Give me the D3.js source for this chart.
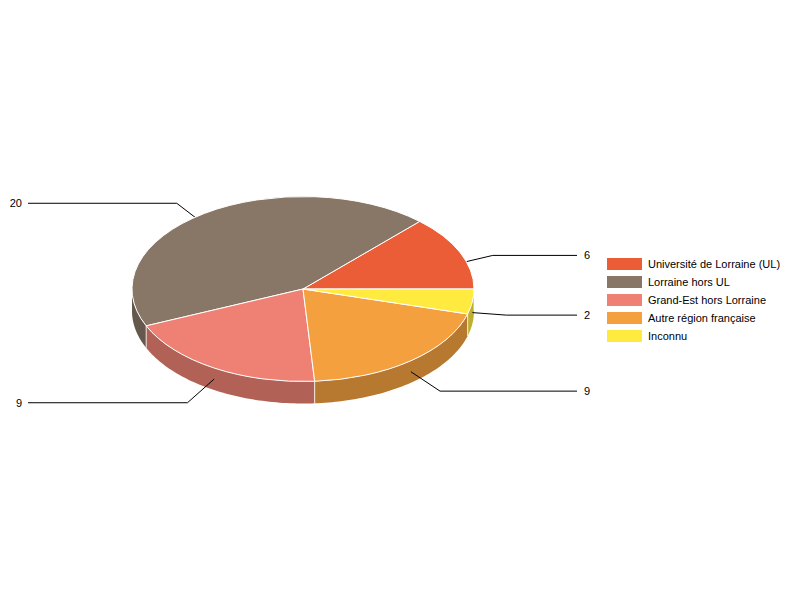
<!DOCTYPE html>
<html>
<head>
<meta charset="utf-8">
<script src="https://cdnjs.cloudflare.com/ajax/libs/d3/7.8.5/d3.min.js"></script>
<style>
    html, body { margin: 0; padding: 0; background: #fff; }
    svg { display: block; }
    text { font-family: "Liberation Sans", Arial, sans-serif; font-size: 11px; fill: #000; }
</style>
</head>
<body>
<div id="chart"></div>
<script>
const categories = ["Université de Lorraine (UL)", "Lorraine hors UL", "Grand-Est hors Lorraine", "Autre région française", "Inconnu"];
const values = [6, 20, 9, 9, 2];
const topColors = ["#ea5d37", "#887667", "#ee8174", "#f5a03f", "#ffea3f"];
const wallColors = ["#af4629", "#65584d", "#b26156", "#b7782f", "#bfaf2f"];
// how far the elbow of each leader line sits from the centre, relative to the slice's mid point
const leaderReach = [1.21, 1.28, 1.3, 1.27, 1.2];

const w = 800;
const h = 600;
const cx = 303;
const cy = 289;
const rx = 171;
const ry = 92.5;
const depth = 22;

const svg = d3.select("#chart").append("svg")
    .attr("width", w)
    .attr("height", h)
    .style("opacity", 0.999);

const color = d3.scaleOrdinal().domain(categories).range(topColors);
const wallColor = d3.scaleOrdinal().domain(categories).range(wallColors);

// starts at 3 o'clock and runs counter clockwise
const slices = d3.pie()
    .sort(null)
    .startAngle(Math.PI / 2)
    .endAngle(Math.PI / 2 - 2 * Math.PI)(values)
    .map((d, i) => ({ ...d, name: categories[i], reach: leaderReach[i] }));

const px = a => cx + rx * Math.sin(a);
const py = a => cy - ry * Math.cos(a);

//side walls, only the part of the rim facing us
const frontStart = -3 * Math.PI / 2;
const frontEnd = -Math.PI / 2;
function wallPath(d) {
    const lo = Math.max(Math.min(d.startAngle, d.endAngle), frontStart);
    const hi = Math.min(Math.max(d.startAngle, d.endAngle), frontEnd);
    if (lo >= hi) return null;
    const angles = d3.range(0, 61).map(k => lo + (hi - lo) * k / 60);
    const line = d3.line();
    const top = angles.map(a => [px(a), py(a)]);
    const bottom = angles.slice().reverse().map(a => [px(a), py(a) + depth]);
    return line(top.concat(bottom)) + "Z";
}

const chart = svg.append("g");

chart.selectAll("path.wall")
    .data(slices.filter(d => wallPath(d)))
    .enter()
    .append("path")
    .attr("class", "wall")
    .attr("d", wallPath)
    .attr("fill", d => wallColor(d.name));

// white seams between walls
chart.selectAll("line.seam")
    .data(slices.filter(d => d.endAngle > frontStart && d.endAngle < frontEnd))
    .enter()
    .append("line")
    .attr("class", "seam")
    .attr("x1", d => px(d.endAngle))
    .attr("x2", d => px(d.endAngle))
    .attr("y1", d => py(d.endAngle))
    .attr("y2", d => py(d.endAngle) + depth)
    .attr("stroke", "#fff")
    .attr("stroke-opacity", 0.8);

// leader lines go under the top face, so the back ones get hidden by it
const leaders = slices.map(d => {
    const mid = (d.startAngle + d.endAngle) / 2;
    const ax = rx * Math.sin(mid);
    const ay = -ry * Math.cos(mid);
    const right = ax > 0;
    const startY = cy + ay + depth / 2;
    const elbowX = cx + ax * d.reach;
    const elbowY = cy + ay * d.reach + depth / 2;
    return { d, right, startX: cx + ax, startY, elbowX, elbowY, endX: right ? 577 : 28 };
});

chart.selectAll("path.leader")
    .data(leaders)
    .enter()
    .append("path")
    .attr("class", "leader")
    .attr("fill", "none")
    .attr("stroke", "#000")
    .attr("stroke-width", 1)
    .attr("d", l => d3.line()([[l.startX, l.startY], [l.elbowX, l.elbowY], [l.endX, l.elbowY]]));

chart.selectAll("text.value")
    .data(leaders)
    .enter()
    .append("text")
    .attr("class", "value")
    .attr("x", l => l.right ? l.endX + 7 : l.endX - 6)
    .attr("y", l => l.elbowY + 4)
    .attr("text-anchor", l => l.right ? "start" : "end")
    .text(l => l.d.value);

// top face, a flattened circle
const arc = d3.arc().innerRadius(0).outerRadius(rx);
chart.append("g")
    .attr("transform", "translate(" + cx + "," + cy + ") scale(1," + (ry / rx) + ")")
    .selectAll("path")
    .data(slices)
    .enter()
    .append("path")
    .attr("d", arc)
    .attr("fill", d => color(d.name))
    .attr("stroke", "#fff")
    .attr("stroke-width", 1)
    .attr("vector-effect", "non-scaling-stroke");

// legend
const legendY = d3.scalePoint().domain(categories).range([264, 336]);
const legend = svg.selectAll("g.legend")
    .data(categories)
    .enter()
    .append("g")
    .attr("class", "legend")
    .attr("transform", d => "translate(607," + legendY(d) + ")");

legend.append("rect")
    .attr("y", -6)
    .attr("width", 35)
    .attr("height", 12)
    .attr("fill", d => color(d));

legend.append("text")
    .attr("x", 41)
    .attr("y", 4)
    .text(d => d);
</script>
</body>
</html>
